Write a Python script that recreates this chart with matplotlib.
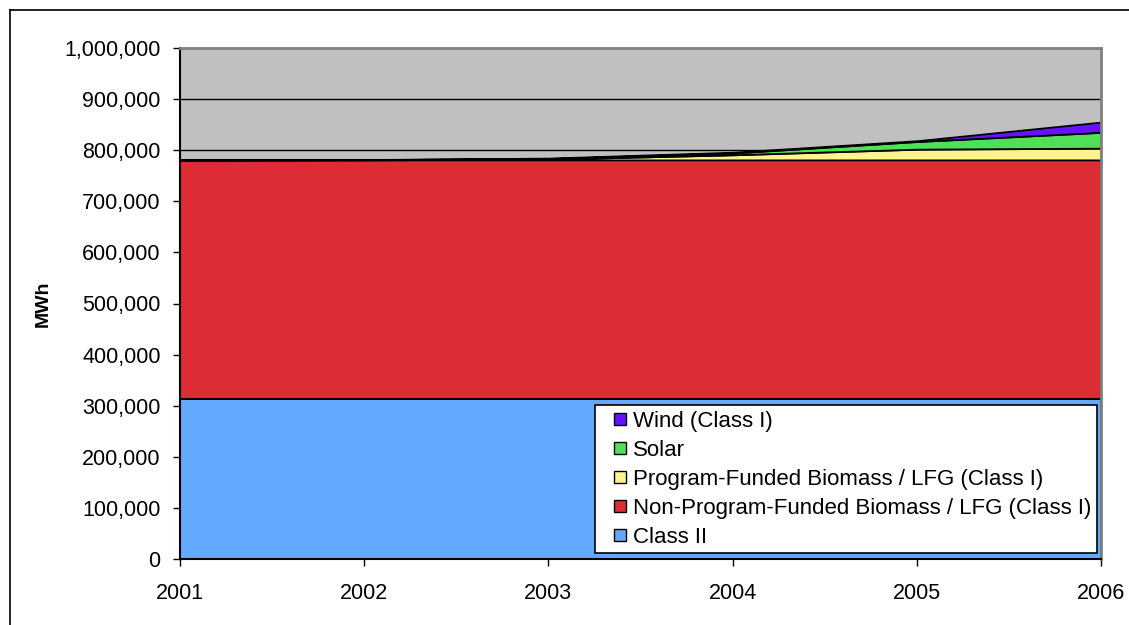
import matplotlib
matplotlib.use('Agg')
import matplotlib.pyplot as plt
from matplotlib.patches import Patch, Rectangle
from matplotlib.legend_handler import HandlerPatch
from matplotlib.lines import Line2D
from matplotlib.ticker import FuncFormatter

plt.rcParams['font.family'] = ['Liberation Sans', 'DejaVu Sans']

# annual generation by source, MWh
years = [2001, 2002, 2003, 2004, 2005, 2006]
class_ii = [313000, 313000, 313000, 313000, 313000, 313000]
non_program = [468000, 468000, 468000, 468000, 468000, 468000]
program_funded = [0, 300, 1500, 10000, 21000, 23000]
solar = [0, 200, 1000, 3500, 15000, 31000]
wind = [0, 200, 1000, 1500, 1500, 20000]

labels = ['Class II',
          'Non-Program-Funded Biomass / LFG (Class I)',
          'Program-Funded Biomass / LFG (Class I)',
          'Solar',
          'Wind (Class I)']
colors = ['#63A9FF', '#DD2C33', '#FFF48C', '#50E058', '#6614FF']


# small square legend key, pushed to the right side of the handle box
def square_patch(legend, orig_handle, xdescent, ydescent, width, height, fontsize):
    s = 0.54 * fontsize
    return Rectangle((-xdescent + width - s, -ydescent + (height - s) / 2), s, s)


fig = plt.figure(figsize=(11.29, 6.25), dpi=100)
ax = fig.add_axes([0.1594, 0.1056, 0.8158, 0.8176])
ax.set_facecolor('#C0C0C0')

ax.stackplot(years, class_ii, non_program, program_funded, solar, wind,
             colors=colors, edgecolor='black', linewidth=1.3)

ax.set_xlim(2001, 2006)
ax.set_ylim(0, 1000000)
ax.set_xticks(years)
ax.set_xticklabels([str(y) for y in years])
ax.set_yticks(range(0, 1000001, 100000))
ax.yaxis.set_major_formatter(FuncFormatter(lambda v, p: f'{int(v):,}'))

ax.yaxis.grid(True, color='black', linewidth=1)
ax.set_axisbelow(True)

ax.tick_params(axis='both', direction='out', length=5, width=1, labelsize=15.5, colors='black')
ax.tick_params(axis='y', pad=9)
ax.tick_params(axis='x', pad=12)

for side in ['left', 'bottom']:
    ax.spines[side].set_color('black')
    ax.spines[side].set_linewidth(1.5)
for side in ['top', 'right']:
    ax.spines[side].set_color('#808080')
    ax.spines[side].set_linewidth(2)

ax.set_ylabel('MWh', fontsize=14, fontweight='bold')
ax.yaxis.set_label_coords(-0.139, 0.5)

handles = [Patch(facecolor=c, edgecolor='black', linewidth=1, label=l)
           for c, l in zip(colors[::-1], labels[::-1])]
leg = ax.legend(handles=handles, loc='lower right', bbox_to_anchor=(0.9957, 0.0117),
                borderaxespad=0, fontsize=16, fancybox=False, framealpha=1,
                edgecolor='black', borderpad=0.24, labelspacing=0.36,
                handlelength=1.16, handleheight=0.7, handletextpad=0.31,
                handler_map={Patch: HandlerPatch(patch_func=square_patch)})
leg.get_frame().set_linewidth(1.2)

# outer chart border (top and left edges fall inside the image)
fig.add_artist(Line2D([10 / 1129, 1], [1 - 10 / 625, 1 - 10 / 625],
                      transform=fig.transFigure, color='black', linewidth=1.2))
fig.add_artist(Line2D([10 / 1129, 10 / 1129], [0, 1 - 10 / 625],
                      transform=fig.transFigure, color='black', linewidth=1.2))

fig.savefig('out.png', dpi=100)
